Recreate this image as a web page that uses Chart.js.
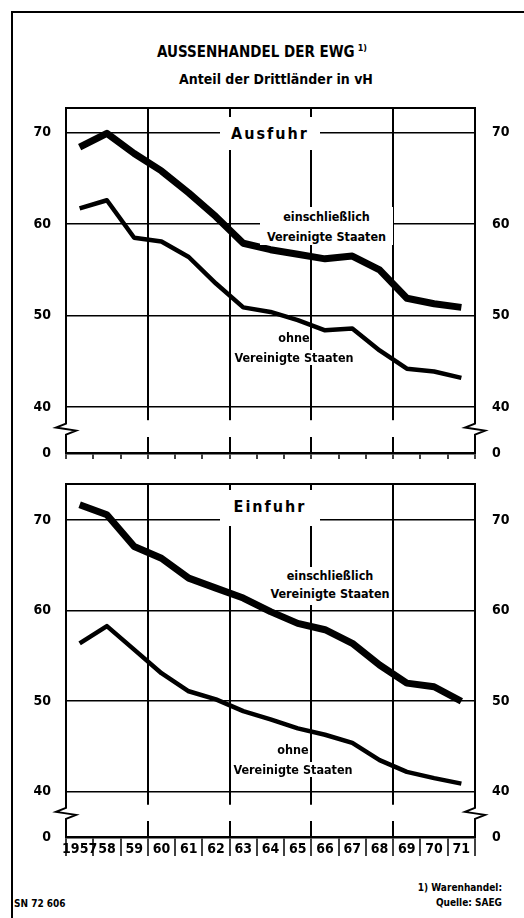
<!DOCTYPE html>
<html>
<head>
<meta charset="utf-8">
<title>Aussenhandel der EWG</title>
<script src="https://cdn.jsdelivr.net/npm/chart.js"></script>
<style>
    body {
        margin: 0;
        background: #fff;
        color: #000;
        font-family: 'DejaVu Sans Condensed', 'Liberation Sans', sans-serif;
        font-weight: bold;
    }
    .blatt { position: relative; width: 524px; height: 918px; overflow: hidden; }
    .rahmen {
        position: absolute; left: 11px; top: 11px; width: 530px; height: 930px;
        border-left: 2px solid #000; border-top: 2px solid #000;
    }
    .tafel { position: absolute; left: 0; }
    .txt { position: absolute; white-space: nowrap; }
    .box { position: absolute; background: #fff; text-align: center; }
    .titel { left: 0; width: 524px; top: 43px; text-align: center; font-size: 15px; }
    .titel sup { font-size: 9px; vertical-align: 6px; margin-left: 3px; }
    .untertitel { left: 14px; width: 524px; top: 71px; text-align: center; font-size: 14px; }
    .teil { font-size: 16px; letter-spacing: 2px; }
    .lab { font-size: 12.5px; line-height: 20px; }
    .ohne { text-align: center; font-size: 12.5px; line-height: 20px; }
    .ohne span { background: #fff; }
    .fuss { right: 22px; text-align: right; font-size: 10px; line-height: 15px; top: 880px; }
    .sn { left: 14px; top: 898px; font-size: 10px; }
</style>
</head>
<body>
<div class="blatt">
    <div class="rahmen"></div>
    <div class="txt titel">AUSSENHANDEL DER EWG<sup>1)</sup></div>
    <div class="txt untertitel">Anteil der Drittländer in vH</div>

    <div class="tafel" style="top:100px"><canvas id="ausfuhr" width="524" height="380"></canvas></div>
    <div class="tafel" style="top:476px"><canvas id="einfuhr" width="524" height="400"></canvas></div>

    <div class="box teil" style="left:220px; top:117px; width:100px; height:33px; line-height:33px;">Ausfuhr</div>
    <div class="box lab" style="left:260px; top:207px; width:133px; height:38px;">einschließlich<br>Vereinigte Staaten</div>
    <div class="txt ohne" style="left:233px; top:328px; width:122px;"><span>ohne</span><br><span>Vereinigte Staaten</span></div>

    <div class="box teil" style="left:220px; top:490px; width:100px; height:36px; line-height:34px;">Einfuhr</div>
    <div class="box lab" style="left:268px; top:567px; width:124px; height:38px; line-height:18px;">einschließlich<br>Vereinigte Staaten</div>
    <div class="txt ohne" style="left:232px; top:740px; width:122px;"><span>ohne</span><br><span>Vereinigte Staaten</span></div>

    <div class="txt fuss">1) Warenhandel:<br>Quelle: SAEG</div>
    <div class="txt sn">SN 72 606</div>
</div>

<script>
    const schrift = "'DejaVu Sans Condensed', 'Liberation Sans', sans-serif";

    const jahre = ['1957', '58', '59', '60', '61', '62', '63', '64', '65', '66', '67', '68', '69', '70', '71'];
    const yTicks = [40, 50, 60, 70];
    const bruchLabel = '0';

    // Anteil der Drittlaender in vH
    const ausfuhrMitUSA = [68.4, 69.9, 67.7, 65.8, 63.4, 60.8, 57.9, 57.2, 56.7, 56.2, 56.5, 55.0, 51.9, 51.3, 50.9];
    const ausfuhrOhneUSA = [61.7, 62.6, 58.5, 58.1, 56.4, 53.5, 50.9, 50.4, 49.5, 48.4, 48.6, 46.2, 44.2, 43.9, 43.2];
    const einfuhrMitUSA = [71.7, 70.6, 67.1, 65.8, 63.6, 62.5, 61.4, 59.9, 58.6, 57.9, 56.4, 54.0, 52.0, 51.6, 50.0];
    const einfuhrOhneUSA = [56.4, 58.3, 55.7, 53.1, 51.1, 50.2, 48.9, 48.0, 47.0, 46.3, 45.4, 43.5, 42.2, 41.5, 40.9];

    // Achsenbruch zwischen 40 und 0 zeichnen
    const bruchPlugin = {
        id: 'bruch',
        afterDraw(chart) {
            const ctx = chart.ctx;
            const a = chart.chartArea;
            const y40 = chart.scales.y.getPixelForValue(yTicks[0]);
            const g1 = y40 + 13;
            const g2 = a.bottom - 16;
            ctx.save();
            ctx.fillStyle = '#fff';
            ctx.fillRect(a.left - 3, g1, a.right - a.left + 6, g2 - g1);
            ctx.strokeStyle = '#000';
            ctx.lineWidth = 2;
            ctx.beginPath();
            ctx.moveTo(a.left - 1, a.top);
            ctx.lineTo(a.right + 1, a.top);
            ctx.stroke();
            const m = (g1 + g2) / 2;
            [a.left, a.right].forEach(x => {
                ctx.beginPath();
                ctx.moveTo(x, g1 - 1);
                ctx.lineTo(x, m - 5);
                ctx.lineTo(x - 10, m - 1);
                ctx.lineTo(x + 10, m + 2);
                ctx.lineTo(x, m + 6);
                ctx.lineTo(x, g2 + 1);
                ctx.stroke();
            });
            ctx.restore();
        }
    };

    function yAchse(pos, yMin, yMax, breite, abstand) {
        return {
            position: pos,
            min: yMin,
            max: yMax,
            afterBuildTicks: s => { s.ticks = [yMin].concat(yTicks).map(v => ({ value: v })); },
            afterFit: s => {
                s.width = breite;
                s.paddingTop = 0;
                s.paddingBottom = 0;
            },
            ticks: {
                color: '#000',
                padding: abstand,
                font: { family: schrift, size: 14, weight: 'bold' },
                callback: v => v === yMin ? bruchLabel : String(v)
            },
            grid: {
                display: pos === 'left',
                color: '#000',
                lineWidth: 1.5,
                drawTicks: false
            },
            border: { display: true, color: '#000', width: 2 }
        };
    }

    function baueTafel(id, mit, ohne, yMax, xHoehe, mitJahren) {
        const yMin = 35;
        return new Chart(document.getElementById(id), {
            type: 'line',
            data: {
                labels: jahre,
                datasets: [
                    { label: 'einschließlich Vereinigte Staaten', data: mit, borderColor: '#000', borderWidth: 7, pointRadius: 0, tension: 0, borderJoinStyle: 'round' },
                    { label: 'ohne Vereinigte Staaten', data: ohne, borderColor: '#000', borderWidth: 4.5, pointRadius: 0, tension: 0, borderJoinStyle: 'round' }
                ]
            },
            options: {
                responsive: false,
                animation: false,
                layout: { padding: { top: 8, left: 0, right: 0, bottom: 0 } },
                plugins: { legend: { display: false }, tooltip: { enabled: false } },
                scales: {
                    x: {
                        offset: true,
                        afterFit: s => {
                            s.height = xHoehe;
                            s.paddingLeft = 0;
                            s.paddingRight = 0;
                        },
                        grid: {
                            offset: true,
                            color: c => (c.type !== 'tick' || c.index % 3 === 0) ? '#000' : 'rgba(0,0,0,0)',
                            lineWidth: 2,
                            tickColor: '#000',
                            tickWidth: 1.5,
                            tickLength: mitJahren ? 19 : 6
                        },
                        border: { display: true, color: '#000', width: 2.5 },
                        ticks: {
                            display: mitJahren,
                            color: '#000',
                            autoSkip: false,
                            maxRotation: 0,
                            padding: -15,
                            font: { family: schrift, size: 14, weight: 'bold' }
                        }
                    },
                    y: yAchse('left', yMin, yMax, 66, 15),
                    y2: yAchse('right', yMin, yMax, 49, 17)
                }
            },
            plugins: [bruchPlugin]
        });
    }

    baueTafel('ausfuhr', ausfuhrMitUSA, ausfuhrOhneUSA, 72.67, 27, false);
    baueTafel('einfuhr', einfuhrMitUSA, einfuhrOhneUSA, 74, 39, true);
</script>
</body>
</html>
